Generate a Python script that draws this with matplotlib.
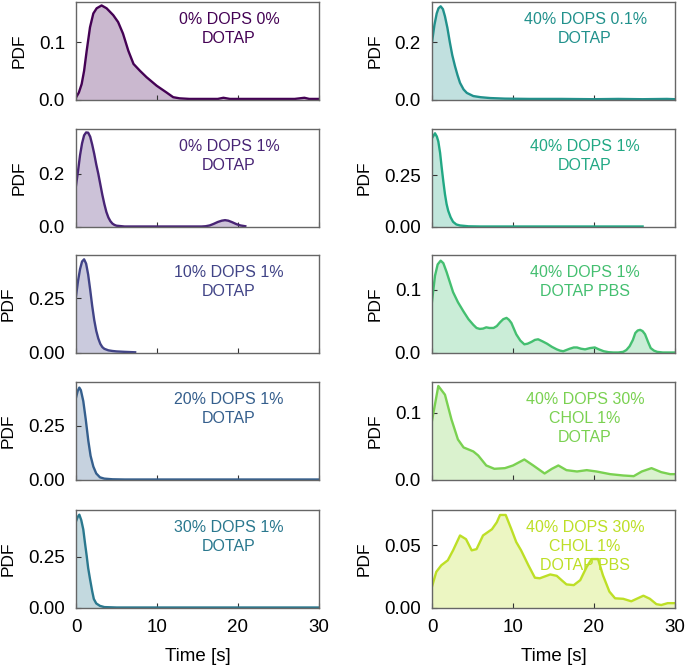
import numpy as np
import matplotlib
matplotlib.use('Agg')
import matplotlib.pyplot as plt

plt.rcParams['font.family'] = ['Liberation Sans', 'DejaVu Sans']

# condition labels (left column top->bottom, then right column)
labels = ['0% DOPS 0%\nDOTAP', '0% DOPS 1%\nDOTAP', '10% DOPS 1%\nDOTAP',
          '20% DOPS 1%\nDOTAP', '30% DOPS 1%\nDOTAP', '40% DOPS 0.1%\nDOTAP',
          '40% DOPS 1%\nDOTAP', '40% DOPS 1%\nDOTAP PBS',
          '40% DOPS 30%\nCHOL 1%\nDOTAP', '40% DOPS 30%\nCHOL 1%\nDOTAP PBS']

# kde curves
t0 = [0, 0.35, 0.7, 1.0, 1.32, 1.73, 2.14, 2.55, 3.16, 3.78, 4.6, 5.2, 5.8, 6.46, 7.1, 7.9, 8.7,
      9.96, 11.2, 12.0, 12.8, 14, 16, 17.5, 18.2, 19, 21, 24, 27, 27.6, 28.2, 28.8, 30]
p0 = [0.0035, 0.012, 0.027, 0.05, 0.085, 0.126, 0.150, 0.159, 0.164, 0.159, 0.147, 0.135, 0.115,
      0.085, 0.062, 0.05, 0.039, 0.024, 0.012, 0.004, 0.002, 0.001, 0.001, 0.001, 0.003, 0.001,
      0.001, 0.001, 0.001, 0.002, 0.003, 0.001, 0.001]

t1 = [0, 0.25, 0.5, 0.75, 1.0, 1.25, 1.5, 1.75, 2.0, 2.25, 2.5, 2.75, 3.0, 3.25, 3.5, 3.75, 4.0,
      4.25, 4.5, 4.75, 5.0, 6, 10, 15.5, 16, 16.5, 17, 17.5, 18, 18.4, 18.8, 19.3, 19.8, 20.3, 20.9]
p1 = [0.155, 0.21, 0.27, 0.315, 0.345, 0.356, 0.355, 0.34, 0.31, 0.275, 0.235, 0.2, 0.16, 0.12,
      0.085, 0.055, 0.034, 0.02, 0.011, 0.006, 0.003, 0.0, 0.0, 0.0, 0.001, 0.004, 0.010, 0.017,
      0.022, 0.024, 0.022, 0.016, 0.009, 0.004, 0.001]

t2 = [0, 0.25, 0.5, 0.75, 1.0, 1.25, 1.5, 1.75, 2.0, 2.25, 2.5, 2.75, 3.0, 3.25, 3.5, 4.0, 4.5,
      5.0, 6.0, 7.3]
p2 = [0.26, 0.33, 0.385, 0.42, 0.43, 0.41, 0.36, 0.29, 0.215, 0.15, 0.1, 0.065, 0.04, 0.025,
      0.017, 0.01, 0.007, 0.005, 0.003, 0.001]

t3 = [0, 0.2, 0.41, 0.6, 0.9, 1.2, 1.52, 1.8, 2.14, 2.5, 2.96, 3.5, 4.5, 6, 8, 12, 20, 30]
p3 = [0.38, 0.41, 0.427, 0.415, 0.364, 0.28, 0.18, 0.11, 0.06, 0.028, 0.01, 0.004, 0.001, 0.0,
      0.0, 0.0, 0.0, 0.0]

t4 = [0, 0.2, 0.41, 0.65, 0.9, 1.1, 1.32, 1.5, 1.73, 2.0, 2.2, 2.5, 2.96, 3.5, 5, 10, 20, 30]
p4 = [0.424, 0.445, 0.457, 0.43, 0.384, 0.32, 0.254, 0.195, 0.14, 0.08, 0.042, 0.02, 0.008,
      0.002, 0.0, 0.0, 0.0, 0.0]

t5 = [0, 0.3, 0.58, 0.8, 1.07, 1.35, 1.6, 1.9, 2.2, 2.5, 2.84, 3.15, 3.46, 3.9, 4.3, 5.1, 6, 7.2,
      9, 12, 16, 20, 23, 26, 29, 30]
p5 = [0.2, 0.26, 0.30, 0.318, 0.325, 0.315, 0.29, 0.25, 0.2, 0.155, 0.116, 0.085, 0.058, 0.035,
      0.023, 0.012, 0.008, 0.005, 0.003, 0.002, 0.002, 0.001, 0.002, 0.001, 0.002, 0.001]

t6 = [0, 0.37, 0.6, 0.78, 1.0, 1.2, 1.4, 1.6, 1.8, 2.0, 2.3, 2.6, 3.0, 3.46, 4.5, 6, 12, 20, 26]
p6 = [0.432, 0.456, 0.44, 0.416, 0.36, 0.287, 0.22, 0.158, 0.11, 0.077, 0.045, 0.023, 0.01,
      0.005, 0.001, 0.0, 0.0, 0.0, 0.0]

t7 = [0, 0.37, 0.7, 1.07, 1.4, 1.8, 2.2, 2.6, 3.2, 3.9, 4.5, 5.1, 5.5, 5.9, 6.3, 6.7, 7.1, 7.6,
      8.0, 8.4, 8.8, 9.2, 9.5, 9.8, 10.1, 10.4, 10.9, 11.4, 11.8, 12.3, 12.7, 13.1, 13.6, 14.2,
      14.8, 15.4, 15.8, 16.2, 16.6, 17.0, 17.5, 17.9, 18.4, 18.9, 19.5, 20.1, 20.6, 21.2, 21.8,
      22.4, 23.0, 23.6, 24.0, 24.4, 24.8, 25.1, 25.4, 25.7, 26.0, 26.3, 26.7, 27.0, 27.4, 27.8,
      28.5, 30]
p7 = [0.081, 0.122, 0.14, 0.146, 0.142, 0.128, 0.112, 0.096, 0.08, 0.065, 0.053, 0.044, 0.039,
      0.0375, 0.038, 0.040, 0.039, 0.039, 0.042, 0.048, 0.053, 0.055, 0.052, 0.047, 0.038, 0.029,
      0.019, 0.013, 0.014, 0.017, 0.02, 0.021, 0.018, 0.014, 0.009, 0.005, 0.003, 0.002, 0.004,
      0.006, 0.008, 0.008, 0.006, 0.005, 0.007, 0.008, 0.005, 0.002, 0.0005, 0.0, 0.0, 0.001,
      0.004, 0.01, 0.02, 0.031, 0.035, 0.036, 0.034, 0.029, 0.016, 0.007, 0.003, 0.001, 0.0, 0.0]

t8 = [0, 0.78, 1.6, 2.4, 3.2, 3.9, 5.1, 5.7, 6.7, 7.7, 9.0, 10.0, 11.4, 12.5, 13.9, 14.8, 15.6,
      16.6, 17.9, 19.1, 20.3, 22.0, 23.6, 24.9, 25.9, 27.1, 28.3, 29.4, 30]
p8 = [0.088, 0.14, 0.127, 0.09, 0.06, 0.048, 0.042, 0.036, 0.021, 0.016, 0.017, 0.021, 0.03,
      0.021, 0.009, 0.016, 0.021, 0.014, 0.012, 0.014, 0.012, 0.008, 0.006, 0.005, 0.012, 0.017,
      0.011, 0.008, 0.008]

t9 = [0, 0.53, 1.15, 1.95, 2.6, 3.46, 4.2, 4.9, 5.5, 6.3, 7.4, 8.0, 8.4, 9.1, 9.8, 10.4, 11.0,
      11.9, 12.7, 13.3, 14.6, 15.4, 16.0, 16.6, 17.5, 18.3, 19.1, 19.7, 20.5, 21.1, 21.9, 22.6,
      23.6, 24.6, 26.1, 26.9, 27.7, 28.3, 29.1, 30]
p9 = [0.0168, 0.0287, 0.034, 0.038, 0.046, 0.058, 0.055, 0.046, 0.047, 0.058, 0.063, 0.0686,
      0.0745, 0.0745, 0.063, 0.0527, 0.046, 0.034, 0.024, 0.0235, 0.0266, 0.0255, 0.022, 0.0186,
      0.018, 0.022, 0.0327, 0.039, 0.039, 0.026, 0.0128, 0.0074, 0.007, 0.005, 0.0095, 0.007,
      0.0027, 0.002, 0.0035, 0.0035]

times = [t0, t1, t2, t3, t4, t5, t6, t7, t8, t9]
pdfs = [p0, p1, p2, p3, p4, p5, p6, p7, p8, p9]
ytick_step = [0.1, 0.2, 0.25, 0.25, 0.25, 0.2, 0.25, 0.1, 0.1, 0.05]
ytop = [0.17, 0.369, 0.45, 0.453, 0.48, 0.34, 0.477, 0.155, 0.146, 0.0785]

colors = plt.cm.viridis(np.linspace(0, 0.9, 10))

W, H = 685, 670
fig = plt.figure(figsize=(W / 100, H / 100), dpi=100)
row_tops = [2, 129, 255, 382, 510]
ax_h = 97.5
col_left = [76, 432]
ax_w = 243

for i in range(10):
    col, row = divmod(i, 5)
    ax = fig.add_axes([col_left[col] / W, 1 - (row_tops[row] + ax_h) / H, ax_w / W, ax_h / H])
    c = colors[i]
    ax.plot(times[i], pdfs[i], color=c, lw=1.7)
    ax.fill_between(times[i], pdfs[i], color=c, alpha=0.28, lw=0)
    ax.set_xlim(0, 30)
    ax.set_ylim(0, ytop[i])
    ax.set_xticks([0, 10, 20, 30])
    ax.set_yticks([0, ytick_step[i]])
    ax.tick_params(direction='in', length=3.5, labelsize=13.5, color='#333333', pad=8)
    for s in ax.spines.values():
        s.set_color('#666666')
        s.set_linewidth(1.0)
    ax.set_ylabel('PDF', fontsize=12.5, labelpad=9)
    if row == 4:
        ax.set_xlabel('Time [s]', fontsize=13.5, labelpad=9)
    else:
        ax.set_xticklabels([])
    ax.text(0.63, 0.9, labels[i], transform=ax.transAxes, ha='center', va='top',
            multialignment='center', color=c, fontsize=11.5, linespacing=1.35)

fig.savefig('out.png', dpi=100)
